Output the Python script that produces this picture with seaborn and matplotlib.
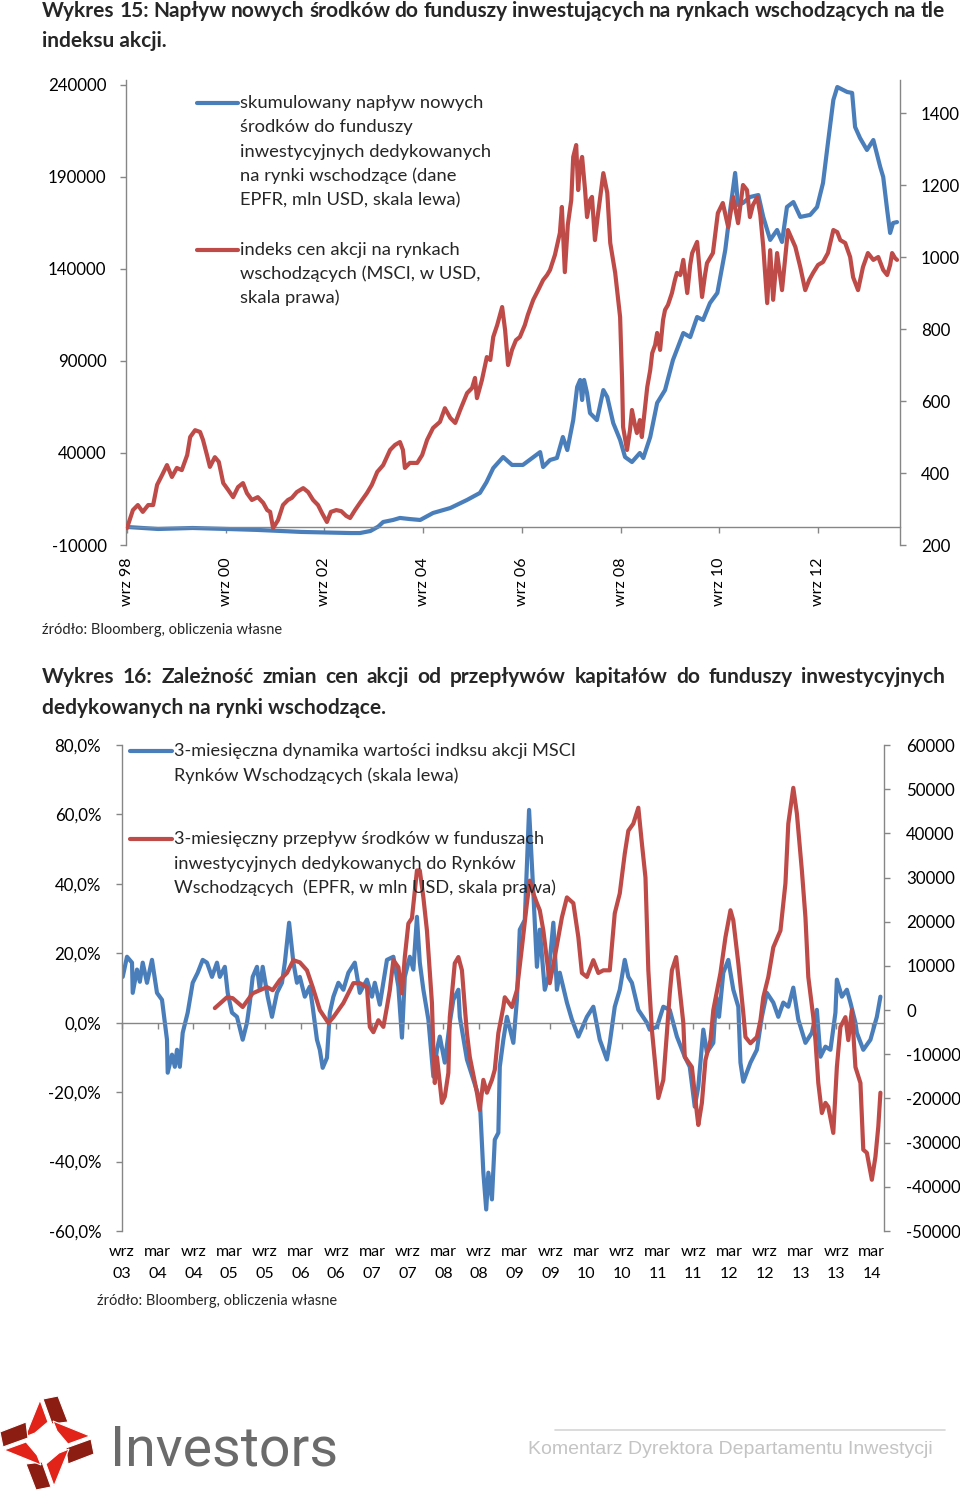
import matplotlib
matplotlib.use("Agg")
import matplotlib.pyplot as plt
import seaborn as sns
from matplotlib.lines import Line2D
from matplotlib.patches import Polygon

# --- Wykres 15: cumulated EM fund flows (left) vs MSCI EM index (right)
flow_year = [1998.67, 1999.30, 2000.00, 2000.70, 2001.30, 2001.80, 2002.20, 2002.70, 2003.20, 2003.39,
             2003.60, 2003.76, 2003.86, 2004.06, 2004.20, 2004.40, 2004.61, 2004.87, 2005.22, 2005.56,
             2005.82, 2005.95, 2006.09, 2006.29, 2006.47, 2006.69, 2007.04, 2007.10, 2007.24, 2007.38,
             2007.50, 2007.59, 2007.71, 2007.79, 2007.85, 2007.89, 2007.93, 2007.99, 2008.05, 2008.19,
             2008.32, 2008.40, 2008.52, 2008.66, 2008.76, 2008.90, 2009.06, 2009.13, 2009.27, 2009.41,
             2009.57, 2009.73, 2009.94, 2010.08, 2010.22, 2010.34, 2010.48, 2010.63, 2010.79, 2010.89,
             2010.99, 2011.05, 2011.15, 2011.29, 2011.46, 2011.56, 2011.70, 2011.84, 2011.94, 2012.04,
             2012.17, 2012.31, 2012.51, 2012.65, 2012.77, 2012.87, 2012.98, 2013.06, 2013.26, 2013.36,
             2013.42, 2013.52, 2013.66, 2013.79, 2013.93, 2013.99, 2014.07, 2014.13, 2014.19, 2014.27]
flow_cum = [-200, -1300, -760, -1300, -1800, -2400, -2900, -3200, -3500, -3500,
            -2400, 0, 2500, 3600, 4700, 4100, 3600, 7400, 10100, 14500,
            18300, 24000, 31800, 37800, 33500, 33500, 40500, 32400, 36200, 37300,
            48700, 41600, 57900, 75900, 79700, 68800, 79700, 72600, 61700, 57900,
            74200, 70400, 56300, 47100, 37800, 35100, 40000, 37300, 48700, 67200,
            74200, 90500, 105200, 103000, 113900, 112300, 121500, 127000, 150300, 172100,
            192200, 174800, 175900, 179100, 180200, 168300, 155800, 161200, 154700, 173700,
            176400, 168300, 169400, 173700, 186700, 208500, 231900, 238900, 236200, 235700,
            217200, 211200, 204700, 210100, 195400, 190000, 172100, 159600, 165000, 165500]

msci_year = [1998.67, 1998.79, 1998.89, 1998.99, 1999.10, 1999.20, 1999.28, 1999.38, 1999.48, 1999.58,
             1999.68, 1999.78, 1999.89, 1999.95, 2000.05, 2000.15, 2000.21, 2000.29, 2000.35, 2000.45,
             2000.53, 2000.62, 2000.72, 2000.82, 2000.92, 2001.02, 2001.10, 2001.20, 2001.32, 2001.43,
             2001.51, 2001.57, 2001.63, 2001.73, 2001.83, 2001.93, 2002.01, 2002.11, 2002.24, 2002.34,
             2002.44, 2002.54, 2002.62, 2002.72, 2002.80, 2002.91, 2003.01, 2003.11, 2003.19, 2003.29,
             2003.39, 2003.53, 2003.63, 2003.74, 2003.86, 2004.00, 2004.10, 2004.20, 2004.26, 2004.30,
             2004.40, 2004.55, 2004.65, 2004.75, 2004.87, 2005.01, 2005.11, 2005.22, 2005.32, 2005.42,
             2005.56, 2005.66, 2005.72, 2005.76, 2005.86, 2005.96, 2006.03, 2006.09, 2006.17, 2006.27,
             2006.33, 2006.39, 2006.47, 2006.55, 2006.63, 2006.73, 2006.79, 2006.90, 2007.00, 2007.10,
             2007.18, 2007.24, 2007.34, 2007.44, 2007.48, 2007.54, 2007.60, 2007.67, 2007.71, 2007.77,
             2007.81, 2007.85, 2007.89, 2007.95, 2007.99, 2008.05, 2008.09, 2008.15, 2008.21, 2008.32,
             2008.40, 2008.46, 2008.56, 2008.62, 2008.66, 2008.70, 2008.72, 2008.80, 2008.86, 2008.90,
             2008.96, 2009.00, 2009.06, 2009.10, 2009.17, 2009.21, 2009.27, 2009.31, 2009.37, 2009.41,
             2009.47, 2009.53, 2009.57, 2009.63, 2009.71, 2009.77, 2009.81, 2009.88, 2009.94, 2010.02,
             2010.08, 2010.12, 2010.22, 2010.32, 2010.38, 2010.42, 2010.54, 2010.64, 2010.74, 2010.85,
             2010.95, 2011.05, 2011.15, 2011.23, 2011.29, 2011.35, 2011.44, 2011.50, 2011.56, 2011.64,
             2011.70, 2011.76, 2011.84, 2011.94, 2012.00, 2012.06, 2012.15, 2012.21, 2012.31, 2012.41,
             2012.49, 2012.57, 2012.67, 2012.77, 2012.87, 2012.98, 2013.06, 2013.12, 2013.22, 2013.32,
             2013.38, 2013.48, 2013.58, 2013.68, 2013.79, 2013.89, 2013.99, 2014.07, 2014.13, 2014.17,
             2014.23, 2014.27]
msci_index = [247, 297, 311, 292, 311, 311, 367, 394, 422, 389,
              414, 408, 450, 500, 519, 514, 492, 450, 417, 444,
              431, 372, 353, 333, 361, 372, 344, 325, 333, 317,
              297, 292, 247, 269, 311, 325, 331, 347, 358, 347,
              325, 311, 289, 264, 292, 297, 294, 281, 275, 297,
              317, 344, 367, 403, 422, 464, 478, 486, 464, 414,
              428, 428, 450, 492, 525, 542, 580, 553, 539, 575,
              622, 636, 664, 608, 658, 722, 714, 778, 811, 861,
              797, 700, 742, 769, 778, 811, 839, 881, 908, 936,
              950, 964, 1006, 1067, 1139, 958, 1089, 1158, 1278, 1311,
              1186, 1256, 1278, 1186, 1111, 1158, 1167, 1047, 1117, 1233,
              1178, 1039, 956, 881, 833, 658, 528, 464, 519, 575,
              533, 511, 547, 500, 589, 639, 686, 733, 756, 789,
              742, 825, 853, 867, 900, 936, 956, 950, 992, 900,
              978, 1011, 1042, 889, 950, 983, 1011, 1122, 1150, 1083,
              1167, 1094, 1200, 1186, 1111, 1144, 1167, 1117, 1028, 872,
              1019, 881, 1011, 908, 992, 1075, 1047, 1028, 972, 908,
              936, 956, 978, 986, 1011, 1075, 1069, 1047, 1039, 1000,
              944, 908, 972, 1011, 992, 1000, 964, 950, 978, 1011,
              997, 992]

c1_ticks = [1998.67, 2000.67, 2002.67, 2004.67, 2006.67, 2008.67, 2010.67, 2012.67]
c1_labels = ["wrz 98", "wrz 00", "wrz 02", "wrz 04", "wrz 06", "wrz 08", "wrz 10", "wrz 12"]

# --- Wykres 16: 3M change of MSCI EM (left, %) vs 3M EM fund flows (right, mln USD)
chg_year = [2003.68, 2003.74, 2003.81, 2003.82, 2003.88, 2003.92, 2003.96, 2004.02, 2004.09, 2004.16,
            2004.23, 2004.30, 2004.31, 2004.37, 2004.41, 2004.44, 2004.48, 2004.52, 2004.59, 2004.66,
            2004.73, 2004.80, 2004.86, 2004.93, 2005.00, 2005.04, 2005.11, 2005.15, 2005.21, 2005.28,
            2005.36, 2005.42, 2005.46, 2005.50, 2005.56, 2005.60, 2005.64, 2005.71, 2005.77, 2005.84,
            2005.91, 2005.95, 2006.01, 2006.07, 2006.12, 2006.16, 2006.23, 2006.30, 2006.34, 2006.40,
            2006.44, 2006.48, 2006.54, 2006.58, 2006.63, 2006.70, 2006.77, 2006.84, 2006.93, 2007.00,
            2007.10, 2007.17, 2007.21, 2007.28, 2007.38, 2007.47, 2007.54, 2007.59, 2007.63, 2007.70,
            2007.75, 2007.80, 2007.84, 2007.89, 2007.96, 2008.03, 2008.08, 2008.12, 2008.19, 2008.26,
            2008.31, 2008.38, 2008.40, 2008.50, 2008.59, 2008.68, 2008.73, 2008.77, 2008.80, 2008.85,
            2008.89, 2008.94, 2008.96, 2009.01, 2009.06, 2009.15, 2009.20, 2009.24, 2009.31, 2009.37,
            2009.43, 2009.48, 2009.52, 2009.59, 2009.64, 2009.71, 2009.76, 2009.80, 2009.90, 2009.97,
            2010.06, 2010.18, 2010.27, 2010.36, 2010.46, 2010.50, 2010.57, 2010.64, 2010.71, 2010.76,
            2010.81, 2010.90, 2011.02, 2011.06, 2011.16, 2011.25, 2011.34, 2011.44, 2011.55, 2011.62,
            2011.69, 2011.74, 2011.81, 2011.86, 2011.95, 2011.99, 2012.03, 2012.09, 2012.16, 2012.23,
            2012.30, 2012.33, 2012.37, 2012.47, 2012.56, 2012.63, 2012.70, 2012.79, 2012.86, 2012.93,
            2013.00, 2013.07, 2013.14, 2013.24, 2013.33, 2013.40, 2013.45, 2013.52, 2013.59, 2013.66,
            2013.68, 2013.75, 2013.82, 2013.87, 2013.94, 2013.96, 2014.05, 2014.15, 2014.24, 2014.29]
chg_pct = [13.2, 19.0, 17.3, 8.6, 15.3, 11.8, 17.3, 11.5, 18.1, 8.6,
           6.6, -4.9, -14.4, -9.2, -12.7, -7.8, -12.7, -2.9, 2.9, 11.5,
           14.4, 18.1, 17.3, 13.2, 17.3, 13.2, 16.1, 8.6, 2.9, 1.7,
           -4.9, 0.0, 5.8, 13.2, 16.1, 9.5, 16.1, 7.5, 1.7, 8.6,
           11.5, 17.3, 28.8, 17.3, 11.5, 13.2, 7.5, 10.4, 4.6, -4.9,
           -7.8, -13.0, -10.1, 2.9, 7.5, 11.5, 9.5, 14.4, 17.3, 8.6,
           12.4, 7.5, 11.5, 5.2, 18.1, 19.0, 10.4, -4.3, 13.2, 19.0,
           15.3, 30.5, 17.3, 9.5, 0.9, -15.5, -7.8, -4.0, -11.5, 0.0,
           6.6, 9.5, 1.7, -10.6, -16.4, -22.2, -43.2, -53.8, -43.2, -50.9,
           -33.7, -31.7, -12.7, -4.9, 1.7, -5.8, 6.6, 26.8, 29.6, 61.3,
           37.4, 16.1, 26.8, 9.5, 13.2, 28.8, 9.5, 14.4, 5.8, 0.9,
           -4.0, 1.7, 4.6, -4.9, -10.6, -5.8, 4.6, 9.5, 18.1, 13.2,
           11.5, 3.7, 0.0, -2.0, -1.2, 4.6, 3.7, -4.0, -9.8, -12.7,
           -24.2, -18.4, -2.0, -8.6, -5.8, 7.5, 1.7, 14.4, 18.1, 9.5,
           4.6, -11.5, -17.0, -11.5, -7.8, 1.7, 8.6, 5.8, 1.7, 5.8,
           4.6, 10.1, 0.9, -5.8, -2.9, 3.7, -9.8, -6.9, -7.8, 2.9,
           12.4, 7.5, 9.5, 5.8, 0.0, -2.9, -7.8, -4.9, 1.7, 7.5]

flow3m_year = [2004.97, 2005.14, 2005.22, 2005.36, 2005.50, 2005.60, 2005.70, 2005.78, 2005.88, 2005.98,
               2006.07, 2006.16, 2006.26, 2006.34, 2006.44, 2006.56, 2006.63, 2006.77, 2006.91, 2007.00,
               2007.10, 2007.14, 2007.19, 2007.26, 2007.33, 2007.38, 2007.42, 2007.47, 2007.54, 2007.59,
               2007.63, 2007.68, 2007.73, 2007.80, 2007.84, 2007.89, 2007.94, 2008.01, 2008.03, 2008.05,
               2008.08, 2008.15, 2008.19, 2008.24, 2008.26, 2008.33, 2008.38, 2008.43, 2008.47, 2008.50,
               2008.54, 2008.64, 2008.68, 2008.73, 2008.78, 2008.85, 2008.89, 2008.94, 2009.01, 2009.03,
               2009.13, 2009.20, 2009.27, 2009.34, 2009.38, 2009.43, 2009.48, 2009.52, 2009.57, 2009.66,
               2009.73, 2009.78, 2009.83, 2009.90, 2009.99, 2010.06, 2010.11, 2010.18, 2010.27, 2010.34,
               2010.41, 2010.50, 2010.57, 2010.64, 2010.71, 2010.76, 2010.83, 2010.90, 2010.95, 2011.00,
               2011.04, 2011.09, 2011.14, 2011.18, 2011.25, 2011.30, 2011.34, 2011.37, 2011.43, 2011.48,
               2011.53, 2011.55, 2011.65, 2011.72, 2011.74, 2011.79, 2011.84, 2011.91, 2011.95, 2012.05,
               2012.12, 2012.19, 2012.23, 2012.30, 2012.37, 2012.40, 2012.47, 2012.56, 2012.61, 2012.65,
               2012.72, 2012.79, 2012.89, 2012.96, 2013.00, 2013.07, 2013.12, 2013.19, 2013.24, 2013.28,
               2013.35, 2013.38, 2013.42, 2013.47, 2013.52, 2013.56, 2013.63, 2013.68, 2013.73, 2013.80,
               2013.84, 2013.89, 2013.94, 2014.01, 2014.05, 2014.10, 2014.17, 2014.22, 2014.26, 2014.29]
flow3m_usd = [450, 2900, 2700, 700, 3800, 4500, 5200, 4500, 6800, 8400,
              11300, 10800, 9000, 5200, 0, -2900, -1600, 1600, 6100, 6100,
              5200, -3800, -5000, -2300, -3800, 700, 4500, 11300, 9700, 3800,
              12000, 19600, 20800, 31600, 31600, 25500, 18000, 1600, -9000, -16500,
              -10600, -21000, -19600, -14200, -1600, 10600, 12000, 9000, 700, -5200,
              -10600, -18700, -22600, -15800, -18700, -15800, -13500, -5200, 700, 2900,
              700, 4500, 14200, 24200, 29300, 26400, 24200, 22600, 18000, 6100,
              12000, 16500, 21000, 25500, 24200, 16500, 8400, 7500, 11300, 8400,
              9000, 9000, 21900, 26400, 35400, 40600, 42200, 45800, 37700, 30000,
              9000, -4500, -12900, -19900, -15800, -5200, 3800, 9000, 12000, 4500,
              -2900, -10600, -12900, -23300, -26000, -21000, -11300, -6800, 0, 8400,
              16500, 22600, 20300, 10600, -700, -6100, -7500, -6100, -2300, 2900,
              7500, 14200, 18000, 28700, 42200, 50300, 44500, 31600, 21000, 7500,
              -1600, -6800, -16500, -23300, -21000, -21900, -27800, -12900, -3800, -1600,
              -6800, 0, -12900, -16500, -31600, -32300, -38400, -33200, -26400, -18700]

c2_ticks = [2003.67 + 0.5 * i for i in range(22)]
c2_labels = ["wrz\n03", "mar\n04", "wrz\n04", "mar\n05", "wrz\n05", "mar\n06", "wrz\n06", "mar\n07",
             "wrz\n07", "mar\n08", "wrz\n08", "mar\n09", "wrz\n09", "mar\n10", "wrz\n10", "mar\n11",
             "wrz\n11", "mar\n12", "wrz\n12", "mar\n13", "wrz\n13", "mar\n14"]
c2_left_ticks = [-60, -40, -20, 0, 20, 40, 60, 80]
c2_left_labels = ["-60,0%", "-40,0%", "-20,0%", "0,0%", "20,0%", "40,0%", "60,0%", "80,0%"]

BLUE = "#4a7ebb"
RED = "#be4b48"
AXIS = "#868686"

sns.set_style("white")
plt.rcParams["font.family"] = ["Lato", "DejaVu Sans"]

W, H = 960, 1491
fig = plt.figure(figsize=(W / 100, H / 100), dpi=100)


def fx(px):
    return px / W


def fy(py):
    return 1 - py / H


def box(x0, y0, x1, y1):
    return [fx(x0), fy(y1), (x1 - x0) / W, (y1 - y0) / H]


def justify(text, x0, x1, y, **kw):
    # spread words over [x0, x1] like a justified paragraph line
    words = text.split()
    r = fig.canvas.get_renderer()
    arts = [fig.text(0, fy(y), w, va="center", **kw) for w in words]
    widths = [a.get_window_extent(r).width for a in arts]
    gap = ((x1 - x0) - sum(widths)) / (len(words) - 1)
    x = x0
    for a, w in zip(arts, widths):
        a.set_x(fx(x))
        x += w + gap


def style_axes(left, right, ylab_pad):
    for ax in (left, right):
        ax.set_xlabel("")
        ax.set_ylabel("")
        for s in ax.spines.values():
            s.set_color(AXIS)
            s.set_linewidth(1)
    left.spines["top"].set_visible(False)
    left.spines["right"].set_visible(False)
    left.spines["bottom"].set_position(("data", 0))
    for s in ["top", "bottom", "left"]:
        right.spines[s].set_visible(False)
    left.tick_params(axis="y", left=True, direction="out", length=4, width=1, color=AXIS,
                     pad=ylab_pad, labelsize=12.2, labelcolor="black")
    right.tick_params(axis="y", right=True, direction="out", length=4, width=1, color=AXIS,
                      pad=ylab_pad + 1, labelsize=12.2, labelcolor="black")
    right.tick_params(axis="x", bottom=False, labelbottom=False)


def legend_entry(x0, x1, y, color, lines, size):
    fig.add_artist(Line2D([fx(x0), fx(x1)], [fy(y), fy(y)], transform=fig.transFigure,
                          color=color, linewidth=3))
    for ly, s in lines:
        fig.text(fx(x1 + 2), fy(ly), s, va="center", ha="left", fontsize=size)


# ---------------- Chart 1 ----------------
justify("Wykres 15: Napływ nowych środków do funduszy inwestujących na rynkach wschodzących na tle",
        42, 945, 11, fontsize=15, fontweight="bold")
fig.text(fx(42), fy(41), "indeksu akcji.", va="center", fontsize=15, fontweight="bold")

ax1 = fig.add_axes(box(126, 80, 900, 545))
ax1b = ax1.twinx()
sns.lineplot(x=flow_year, y=flow_cum, ax=ax1, color=BLUE, linewidth=3, estimator=None, sort=False,
             solid_joinstyle="round", solid_capstyle="round")
sns.lineplot(x=msci_year, y=msci_index, ax=ax1b, color=RED, linewidth=3, estimator=None, sort=False,
             solid_joinstyle="round", solid_capstyle="round")
ax1.set_xlim(1998.65, 2014.33)
ax1.set_ylim(-10000, 242717)
ax1b.set_ylim(200, 1491.7)
ax1.set_yticks(range(-10000, 240001, 50000))
ax1.set_yticklabels([str(v) for v in range(-10000, 240001, 50000)])
ax1b.set_yticks(range(200, 1401, 200))
ax1b.set_yticklabels([str(v) for v in range(200, 1401, 200)])
ax1.set_xticks(c1_ticks)
ax1.set_xticklabels(c1_labels)
style_axes(ax1, ax1b, 10)
ax1.tick_params(axis="x", bottom=True, direction="out", length=4, width=1, color=AXIS,
                pad=18, labelsize=11.5, labelcolor="black", labelrotation=90)

legend_entry(197, 238, 103, BLUE,
             [(103, "skumulowany napływ nowych"), (127, "środków do funduszy"),
              (152, "inwestycyjnych dedykowanych"), (176, "na rynki wschodzące (dane"),
              (200, "EPFR, mln USD, skala lewa)")], 13.25)
legend_entry(197, 238, 250, RED,
             [(250, "indeks cen akcji na rynkach"), (274, "wschodzących (MSCI, w USD,"),
              (298, "skala prawa)")], 13.25)

fig.text(fx(42), fy(630), "źródło: Bloomberg, obliczenia własne", va="center", fontsize=10.5)

# ---------------- Chart 2 ----------------
justify("Wykres 16: Zależność zmian cen akcji od przepływów kapitałów do funduszy inwestycyjnych",
        42, 945, 677, fontsize=15, fontweight="bold")
fig.text(fx(42), fy(708), "dedykowanych na rynki wschodzące.", va="center", fontsize=15,
         fontweight="bold")

ax2 = fig.add_axes(box(122, 745, 884, 1231))
ax2b = ax2.twinx()
sns.lineplot(x=chg_year, y=chg_pct, ax=ax2, color=BLUE, linewidth=3, estimator=None, sort=False,
             solid_joinstyle="round", solid_capstyle="round")
sns.lineplot(x=flow3m_year, y=flow3m_usd, ax=ax2b, color=RED, linewidth=3, estimator=None,
             sort=False, solid_joinstyle="round", solid_capstyle="round")
ax2.set_xlim(2003.67, 2014.34)
ax2.set_ylim(-60, 80)
ax2b.set_ylim(-50000, 60000)
ax2.set_yticks(c2_left_ticks)
ax2.set_yticklabels(c2_left_labels)
ax2b.set_yticks(range(-50000, 60001, 10000))
ax2b.set_yticklabels([str(v) for v in range(-50000, 60001, 10000)])
ax2.set_xticks(c2_ticks)
ax2.set_xticklabels(c2_labels)
style_axes(ax2, ax2b, 11)
ax2.tick_params(axis="x", bottom=True, direction="out", length=4, width=1, color=AXIS,
                pad=156, labelsize=11.5, labelcolor="black")
for lab in ax2.get_xticklabels():
    lab.set_linespacing(1.75)

legend_entry(130, 172, 751, BLUE,
             [(751, "3-miesięczna dynamika wartości indksu akcji MSCI"),
              (776, "Rynków Wschodzących (skala lewa)")], 13.1)
legend_entry(130, 172, 839, RED,
             [(839, "3-miesięczny przepływ środków w funduszach"),
              (864, "inwestycyjnych dedykowanych do Rynków"),
              (888, "Wschodzących  (EPFR, w mln USD, skala prawa)")], 13.1)

fig.text(fx(97), fy(1301), "źródło: Bloomberg, obliczenia własne", va="center", fontsize=10.5)

# ---------------- Footer ----------------
# logo: one arm (red inner piece + dark outer piece) rotated four times round the centre
LOGO_RED = "#e2231a"
LOGO_DARK = "#8c1d12"
cx, cy = 47, 1443
arm_red = [(40, 1400), (25, 1437), (35, 1433), (48, 1422)]
arm_dark = [(43, 1399), (58, 1396), (68, 1422), (52, 1424)]
for k in range(4):
    for pts, col in [(arm_red, LOGO_RED), (arm_dark, LOGO_DARK)]:
        rot = []
        for x, y in pts:
            dx, dy = x - cx, y - cy
            for _ in range(k):
                dx, dy = -dy, dx
            rot.append((fx(cx + dx), fy(cy + dy)))
        fig.add_artist(Polygon(rot, closed=True, transform=fig.transFigure, facecolor=col,
                               edgecolor="white", linewidth=0.8))

fig.text(fx(110), fy(1465), "Investors", va="baseline", ha="left", fontsize=40,
         color="#6b6b6b", family=["Roboto", "DejaVu Sans"])
fig.add_artist(Line2D([fx(555), fx(945)], [fy(1430), fy(1430)], transform=fig.transFigure,
                      color="#d6d6d6", linewidth=1.2))
fig.text(fx(528), fy(1450), "Komentarz Dyrektora Departamentu Inwestycji", va="center",
         ha="left", fontsize=14, color="#c4c4c4", family=["Liberation Sans", "DejaVu Sans"])

fig.savefig("out.png", dpi=100)
